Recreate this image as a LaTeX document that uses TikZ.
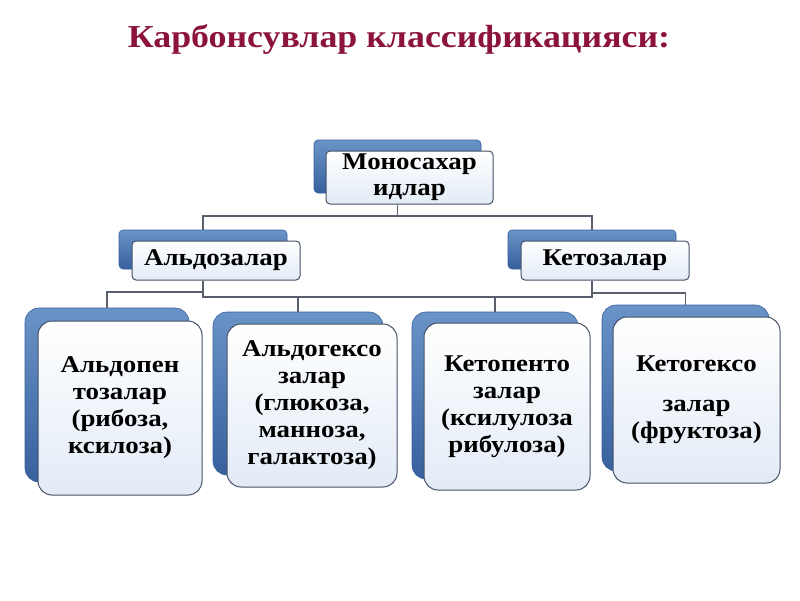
\documentclass[tikz,border=0pt]{standalone}
\usepackage{fontspec}
\setmainfont{Liberation Serif}
\newfontfamily\tnr[FakeStretch=1.12]{Liberation Serif}
\definecolor{titlered}{RGB}{140,20,58}
\definecolor{backblue}{RGB}{79,129,189}
\definecolor{backdark}{RGB}{55,96,158}
\definecolor{edge}{RGB}{70,80,102}
\definecolor{connc}{RGB}{90,95,110}
\definecolor{frontlow}{RGB}{226,235,246}
\begin{document}
\begin{tikzpicture}[x=1pt,y=-1pt,
  box/.style={rounded corners=4pt, inner sep=0pt, align=center,
    font=\tnr\bfseries\fontsize{24}{27}\selectfont},
  front/.style={box, draw=edge, line width=1pt, top color=white, bottom color=frontlow},
  back/.style={box, draw=backdark, line width=0.6pt, top color=backblue!85!white, bottom color=backdark},
  big/.style={rounded corners=14pt},
  conn/.style={draw=connc, line width=1.1pt}]
\useasboundingbox[fill=white] (0,0) rectangle (800,600);

\node[font=\tnr\bfseries\fontsize{32}{38}\selectfont, text=titlered, anchor=base] (title) at (399,47) {Карбонсувлар классификацияси:};

% back shapes
\node[back, minimum width=167pt, minimum height=53pt] (monoB) at (397.5,166.5) {};
\node[back, minimum width=168pt, minimum height=39pt] (aldB) at (203,249.5) {};
\node[back, minimum width=168pt, minimum height=39pt] (ketB) at (592,249.5) {};
\node[back, big, minimum width=164pt, minimum height=174pt] (apB) at (107,395) {};
\node[back, big, minimum width=170pt, minimum height=163pt] (ahB) at (298,393.5) {};
\node[back, big, minimum width=166pt, minimum height=167pt] (kpB) at (495,395.5) {};
\node[back, big, minimum width=167pt, minimum height=166pt] (khB) at (685.5,388) {};

% front boxes
\node[front, minimum width=167pt, minimum height=53pt] (mono) at (409.5,177.5) {Моносахар\\[-1pt]идлар};
\node[front, minimum width=168pt, minimum height=39pt] (ald) at (216,260.5) {Альдозалар};
\node[front, minimum width=168pt, minimum height=39pt] (ket) at (605,260.5) {Кетозалар};
\node[front, big, minimum width=164pt, minimum height=174pt] (ap) at (120,408) {Альдопен\\тозалар\\(рибоза,\\ксилоза)};
\node[front, big, minimum width=170pt, minimum height=163pt] (ah) at (312,405.5) {Альдогексо\\залар\\(глюкоза,\\манноза,\\галактоза)};
\node[front, big, minimum width=166pt, minimum height=167pt] (kp) at (507,406.5) {Кетопенто\\залар\\(ксилулоза\\рибулоза)};
\node[front, big, minimum width=167pt, minimum height=166pt] (kh) at (696.5,400) {Кетогексо\\[13pt]залар\\(фруктоза)};

% connectors
\coordinate (yTop) at (0,216);
\coordinate (yA1) at (0,292);
\coordinate (yA2) at (0,297);
\coordinate (yK2) at (0,293);
\draw[conn] (monoB.south |- mono.south) -- (monoB.south |- yTop);
\draw[conn] (aldB.north) -- (aldB.north |- yTop) -- (ketB.north |- yTop) -- (ketB.north);
\draw[conn] (aldB.south |- ald.south) -- (aldB.south |- yA2) -- (ketB.south |- yA2) -- (ketB.south |- ket.south);
\draw[conn] (ahB.north |- yA2) -- (ahB.north);
\draw[conn] (kpB.north |- yA2) -- (kpB.north);
\draw[conn] (aldB.south |- yA1) -- (apB.north |- yA1) -- (apB.north);
\draw[conn] (ketB.south |- yK2) -- (khB.north |- yK2) -- (khB.north);
\end{tikzpicture}
\end{document}
